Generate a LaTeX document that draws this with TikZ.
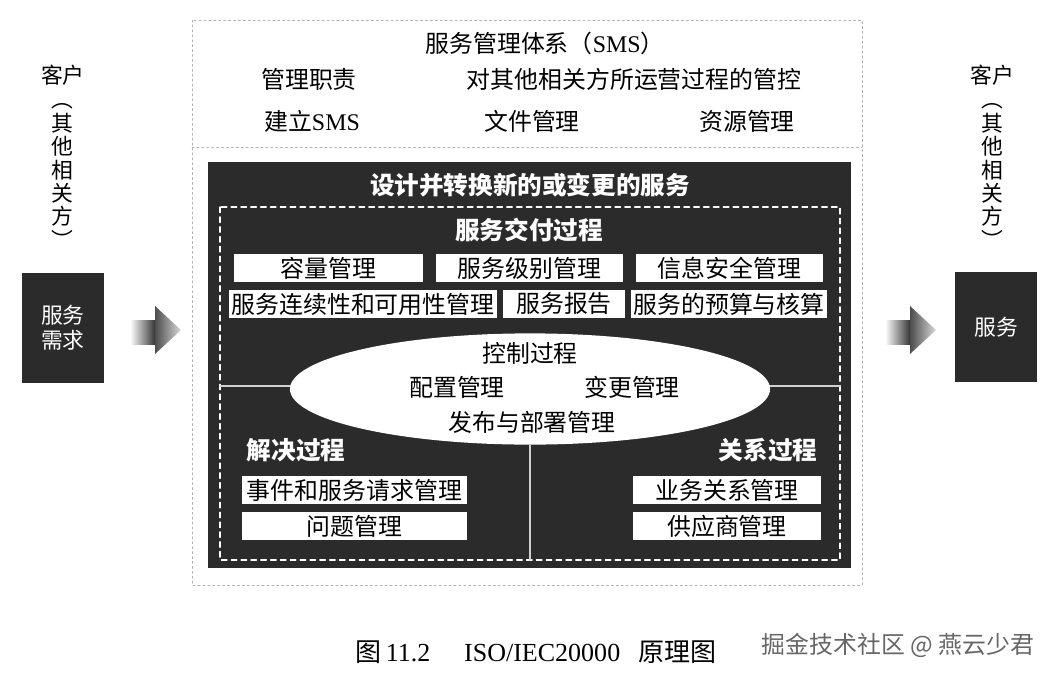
\documentclass[tikz,border=0pt]{standalone}
\usepackage{fontspec}
\setmainfont{Noto Sans CJK SC}
\newfontfamily\latserif{Liberation Serif}
\usepackage{tikz}
\usetikzlibrary{shapes.geometric}
\definecolor{ttttuu}{rgb}{0.17,0.17,0.17}
\definecolor{bcbcbc}{rgb}{0.70,0.70,0.70}
\definecolor{cccccc}{rgb}{0.82,0.82,0.82}
\definecolor{wmgray}{rgb}{0.40,0.40,0.40}
\tikzset{
  txt/.style={inner sep=0pt, font=\fontsize{17}{20}\selectfont},
  sidetxt/.style={inner sep=0pt, align=center, font=\fontsize{15.5}{16.6}\selectfont},
  hd/.style={inner sep=0pt, text=white, font=\fontsize{17.5}{20}\selectfont\bfseries},
  wbox/.style={fill=white, inner sep=0pt, minimum height=0.69cm, font=\fontsize{17}{20}\selectfont},
  darkbox/.style={fill=ttttuu, text=white, inner sep=0pt, minimum width=2.05cm, minimum height=2.75cm, align=center, font=\fontsize{15.5}{18}\selectfont},
}

\begin{document}
\begin{tikzpicture}[line cap=round,line join=round,x=0.025cm,y=-0.025cm]
\useasboundingbox (0,0) rectangle (1060,678);
% outer frame: service management system
\draw [line width=0.5pt,color=bcbcbc,dash pattern=on 1.5pt off 2pt] (192,20) rectangle (862,585);
\draw [line width=0.5pt,color=bcbcbc,dash pattern=on 1.5pt off 2pt] (192,147) -- (862,147);
\node [txt] (sms) at (545,43) {服务管理体系（{\latserif SMS}）};
\node [txt] (zhize) at (309,79) {管理职责};
\node [txt] (guankong) at (634,79) {对其他相关方所运营过程的管控};
\node [txt] (jianli) at (312,121) {建立{\latserif SMS}};
\node [txt] (wenjian) at (532,121) {文件管理};
\node [txt] (ziyuan) at (747,121) {资源管理};
% dark panel
\fill [color=ttttuu] (208,162) rectangle (851,568);
\node [hd] (sheji) at (530,185) {设计并转换新的或变更的服务};
\draw [line width=0.8pt,color=white,dash pattern=on 4pt off 3pt] (220,207) rectangle (840,560);
\node [hd] (jiaofu) at (529,230) {服务交付过程};
\node [wbox,minimum width=4.725cm] (rongliang) at (328.5,268) {容量管理};
\node [wbox,minimum width=4.675cm] (jibie) at (529.5,268) {服务级别管理};
\node [wbox,minimum width=4.675cm] (anquan) at (729.5,268) {信息安全管理};
\node [wbox,minimum width=6.7cm,minimum height=0.7cm] (lianxu) at (363,304) {服务连续性和可用性管理};
\node [wbox,minimum width=3.05cm,minimum height=0.7cm] (baogao) at (564,304) {服务报告};
\node [wbox,minimum width=4.9cm,minimum height=0.7cm] (yusuan) at (729,304) {服务的预算与核算};
% control processes
\draw [line width=1pt,color=cccccc] (220,386) -- (840,386);
\node [ellipse,fill=white,inner sep=0pt,minimum width=12cm,minimum height=2.78cm] (kongzhi) at (530,389) {};
\coordinate (innerbot) at (531,560);
\draw [line width=1pt,color=cccccc] (kongzhi.south) -- (kongzhi.south |- innerbot);
\node [txt] (kzgc) at (530,353) {控制过程};
\node [txt] (peizhi) at (457,387) {配置管理};
\node [txt] (biangeng) at (632,387) {变更管理};
\node [txt] (fabu) at (532,422) {发布与部署管理};
% resolution and relationship processes
\node [hd] (jiejue) at (296,450) {解决过程};
\node [hd] (guanxi) at (768,450) {关系过程};
\node [wbox,minimum width=5.625cm,minimum height=0.7cm] (shijian) at (354.5,490) {事件和服务请求管理};
\node [wbox,minimum width=5.625cm,minimum height=0.7cm] (wenti) at (354.5,526) {问题管理};
\node [wbox,minimum width=4.7cm,minimum height=0.7cm] (yewu) at (727,490) {业务关系管理};
\node [wbox,minimum width=4.7cm,minimum height=0.7cm] (gongying) at (727,526) {供应商管理};
% customers
\node [sidetxt] (kehuL) at (63,75) {客户};
\node [sidetxt] (qitaL) at (62,176) {︵\\其\\他\\相\\关\\方\\︶};
\node [darkbox] (xuqiu) at (63,328) {服务\\需求};
\node [sidetxt] (kehuR) at (992,75) {客户};
\node [sidetxt] (qitaR) at (992,176) {︵\\其\\他\\相\\关\\方\\︶};
\node [darkbox] (fuwu) at (996,327) {服务};
% arrows
\shade [left color=white,right color=black!85] (130,320) rectangle (157,344);
\shade [left color=black!70,right color=white!85!black] (155,306) -- (181,330) -- (155,354) -- cycle;
\shade [left color=white,right color=black!85] (885,320) rectangle (912,344);
\shade [left color=black!70,right color=white!85!black] (910,306) -- (936,330) -- (910,354) -- cycle;
% caption
\node [inner sep=0pt,font=\fontsize{18.5}{20}\selectfont] (caption) at (536,652) {图\,{\latserif 11.2}\hspace{1.3em}{\latserif ISO/IEC20000}\hspace{0.7em}原理图};
\node [inner sep=0pt,text=wmgray,font=\fontsize{17}{20}\selectfont] (mark) at (898,645) {掘金技术社区 @ 燕云少君};
\end{tikzpicture}
\end{document}
